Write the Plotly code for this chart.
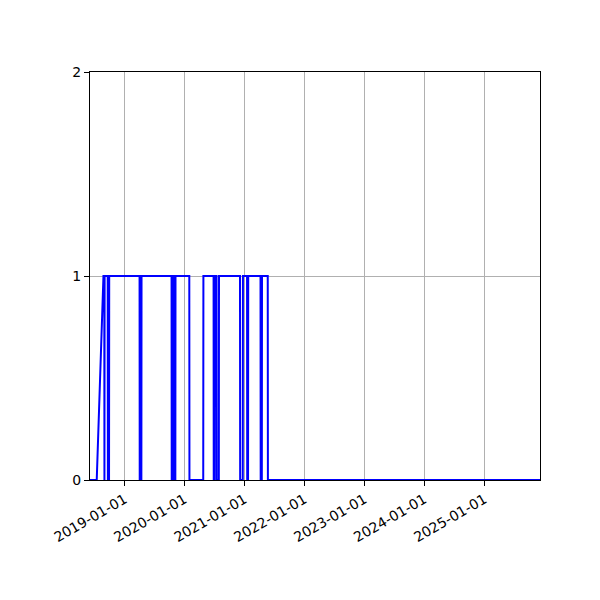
import plotly.graph_objects as go

# state series (1 = on, 0 = off)
dates = [
    "2018-06-04", "2018-07-15", "2018-08-25", "2018-08-30", "2018-08-31", "2018-09-01",
    "2018-09-20", "2018-09-21", "2018-09-28", "2018-09-29",
    "2019-04-02", "2019-04-03", "2019-04-13", "2019-04-14",
    "2019-10-14", "2019-10-15", "2019-10-22", "2019-10-23",
    "2019-10-29", "2019-10-30", "2019-11-06", "2019-11-07",
    "2020-01-30", "2020-01-31", "2020-04-24", "2020-04-25",
    "2020-06-26", "2020-06-27", "2020-07-02", "2020-07-03",
    "2020-07-14", "2020-07-15", "2020-07-28", "2020-07-29",
    "2020-12-04", "2020-12-05", "2020-12-21", "2020-12-22",
    "2021-01-16", "2021-01-17", "2021-01-22", "2021-01-23",
    "2021-04-08", "2021-04-09", "2021-04-16", "2021-04-17",
    "2021-05-22", "2021-05-23", "2025-12-06",
]
values = [
    0, 0, 1, 1, 0, 1,
    1, 0, 0, 1,
    1, 0, 0, 1,
    1, 0, 0, 1,
    1, 0, 0, 1,
    1, 0, 0, 1,
    1, 0, 0, 1,
    1, 0, 0, 1,
    1, 0, 0, 1,
    1, 0, 0, 1,
    1, 0, 0, 1,
    1, 0, 0,
]

tick_dates = ["2019-01-01", "2020-01-01", "2021-01-01", "2022-01-01",
              "2023-01-01", "2024-01-01", "2025-01-01"]
y_ticks = [0, 1, 2]

fig = go.Figure()
fig.add_trace(go.Scatter(x=dates, y=values, mode="lines",
                         line=dict(color="#0000ff", width=2)))

axis_style = dict(
    showline=True, mirror=True, linecolor="black", linewidth=1,
    showgrid=True, gridcolor="#b0b0b0", gridwidth=1,
    ticks="outside", ticklen=5, tickcolor="black", zeroline=False,
    layer="below traces",
)
# the page sits 8px in from the window edge, so margins are shifted by 8
fig.update_layout(
    width=600, height=600,
    margin=dict(l=82, r=68, t=64, b=128),
    paper_bgcolor="white", plot_bgcolor="white",
    showlegend=False,
    font=dict(family="DejaVu Sans", size=14, color="black"),
    xaxis=dict(type="date", range=["2018-06-04", "2025-12-06"],
               tickvals=tick_dates, ticktext=tick_dates, tickangle=-30,
               **axis_style),
    yaxis=dict(range=[0, 2], tickvals=y_ticks, **axis_style),
)
fig.write_html("out.html")
